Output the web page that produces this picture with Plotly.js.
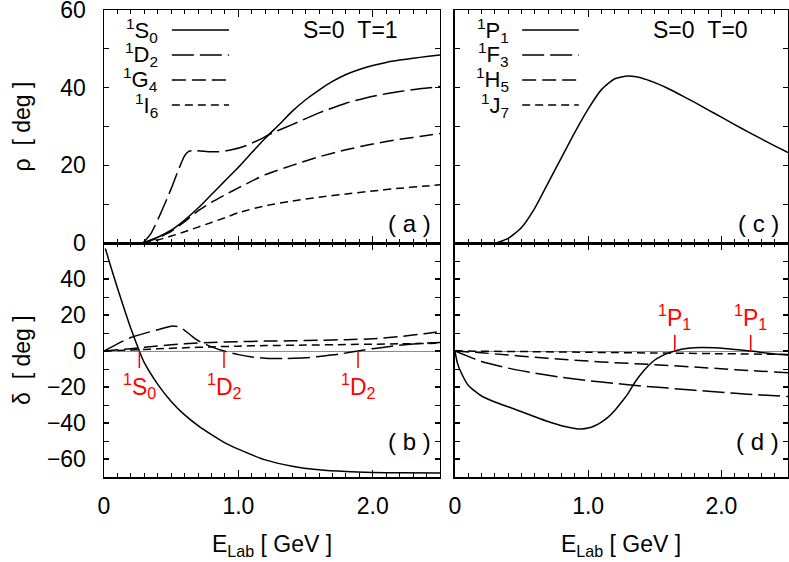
<!DOCTYPE html>
<html>
<head>
<meta charset="utf-8">
<script src="https://cdn.plot.ly/plotly-3.0.1.min.js"></script>
<style>
  html, body { margin: 0; padding: 0; background: #fff; }
  #plot { width: 789px; height: 562px; }
</style>
</head>
<body>
<div id="plot"></div>
<script>
// (a) rho, S=0 T=1
const eS0a = [0.29, 0.4, 0.5, 0.6, 0.7, 0.8, 0.9, 1.0, 1.1, 1.2, 1.3, 1.4, 1.5, 1.6, 1.7, 1.8, 1.9, 2.0, 2.1, 2.2, 2.3, 2.4, 2.5]
const rhoS0 = [0, 1.5, 3.3, 5.9, 9, 12.5, 16, 19.5, 23.3, 27, 30.4, 33.9, 36.9, 39.4, 41.6, 43.4, 44.7, 45.7, 46.5, 47.1, 47.6, 48.0, 48.4]
const eD2a = [0.29, 0.35, 0.42, 0.5, 0.55, 0.6, 0.63, 0.66, 0.75, 0.85, 0.95, 1.05, 1.15, 1.25, 1.4, 1.6, 1.8, 2.0, 2.2, 2.35, 2.5]
const rhoD2 = [0, 2.5, 7.5, 14, 18.5, 22.5, 23.6, 23.8, 23.6, 23.5, 24, 25, 26.5, 28.3, 30.5, 33.5, 36, 37.8, 39, 39.7, 40.3]
const eG4a = [0.29, 0.4, 0.5, 0.6, 0.7, 0.8, 0.9, 1.0, 1.2, 1.4, 1.6, 1.8, 2.0, 2.2, 2.4, 2.5]
const rhoG4 = [0, 1.3, 3, 5.5, 8.3, 10.5, 12.4, 14.2, 17.6, 20, 22.2, 24, 25.5, 26.7, 27.7, 28.2]
const eI6a = [0.29, 0.4, 0.5, 0.6, 0.7, 0.8, 0.9, 1.0, 1.2, 1.4, 1.6, 1.8, 2.0, 2.2, 2.4, 2.5]
const rhoI6 = [0, 0.8, 1.8, 2.9, 4.1, 5.3, 6.5, 7.8, 9.6, 10.8, 11.8, 12.6, 13.4, 14.1, 14.7, 15.0]

// (b) delta, S=0 T=1
const eS0b = [0.01, 0.05, 0.1, 0.15, 0.2, 0.263, 0.3, 0.4, 0.5, 0.6, 0.7, 0.8, 0.9, 1.0, 1.2, 1.4, 1.6, 1.8, 2.0, 2.2, 2.5]
const delS0 = [57, 47, 35, 23.5, 12.5, 0, -6.5, -18.5, -28, -35.5, -41.5, -46.5, -51, -54.5, -60.5, -64, -66, -67, -67.5, -67.7, -67.8]
const eD2b = [0, 0.1, 0.2, 0.3, 0.4, 0.5, 0.55, 0.6, 0.65, 0.7, 0.8, 0.893, 1.0, 1.1, 1.2, 1.35, 1.5, 1.6, 1.75, 1.89, 2.0, 2.2, 2.35, 2.5]
const delD2 = [0, 4, 7.5, 9.8, 11.8, 13.8, 13.5, 11.5, 8.5, 5.8, 2.3, 0, -2, -3.3, -4, -4.2, -3.8, -3, -1.7, 0, 1.3, 3.2, 4.2, 4.7]
const eG4b = [0, 0.2, 0.4, 0.6, 0.8, 1.0, 1.2, 1.4, 1.6, 1.8, 2.0, 2.2, 2.4, 2.5]
const delG4 = [0, 1.3, 2.8, 4, 4.8, 5.2, 5.5, 5.7, 6, 6.3, 6.8, 8, 9.8, 10.8]
const eI6b = [0, 0.2, 0.4, 0.6, 0.8, 1.0, 1.2, 1.5, 1.8, 2.0, 2.2, 2.5]
const delI6 = [0, 0.5, 1.2, 1.8, 2.3, 2.7, 3, 3.3, 3.6, 3.8, 4, 4.3]

// (c) rho, S=0 T=0 (only 1P1 leaves zero)
const eP1c = [0.31, 0.4, 0.5, 0.6, 0.7, 0.8, 0.9, 1.0, 1.1, 1.2, 1.3, 1.4, 1.5, 1.6, 1.7, 1.8, 1.9, 2.0, 2.1, 2.2, 2.3, 2.4, 2.5]
const rhoP1 = [0, 1.2, 4, 9, 15.5, 22, 28.5, 34.5, 39.5, 42.3, 43, 42.5, 41.3, 39.8, 38, 36.2, 34.3, 32.4, 30.5, 28.6, 26.8, 25, 23.3]
const eFlat = [0, 2.5]
const rhoFlat = [0, 0]

// (d) delta, S=0 T=0
const eP1d = [0, 0.02, 0.05, 0.1, 0.2, 0.3, 0.4, 0.5, 0.6, 0.7, 0.8, 0.9, 0.95, 1.0, 1.05, 1.1, 1.15, 1.2, 1.25, 1.3, 1.35, 1.4, 1.45, 1.5, 1.55, 1.6, 1.65, 1.75, 1.85, 1.95, 2.05, 2.15, 2.22, 2.35, 2.5]
const delP1 = [0, -7, -12.5, -19, -25, -28.3, -31, -33.7, -36.5, -39.2, -41.5, -43, -43.3, -42.8, -41.5, -39.5, -36.7, -33, -28.5, -23.5, -17.5, -12.5, -8.3, -5, -2.8, -1.2, 0, 1.5, 2, 1.8, 1.2, 0.5, 0, -1.2, -2.2]
const eF3d = [0, 0.1, 0.2, 0.4, 0.6, 0.8, 1.0, 1.2, 1.4, 1.6, 1.8, 2.0, 2.2, 2.5]
const delF3 = [0, -3, -5.8, -9.5, -12.3, -14.6, -16.5, -18, -19.4, -20.6, -21.8, -22.9, -24, -25.3]
const eH5d = [0, 0.2, 0.4, 0.6, 0.8, 1.0, 1.2, 1.4, 1.6, 1.8, 2.0, 2.2, 2.5]
const delH5 = [0, -1, -2.2, -3.5, -4.6, -5.6, -6.5, -7.2, -8, -8.9, -9.9, -10.8, -12.1]
const eJ7d = [0, 0.5, 1.0, 1.5, 2.0, 2.5]
const delJ7 = [0, -0.3, -0.7, -1.1, -1.5, -1.9]

// zero crossings marked in red
const markBE = [0.263, 0.893, 1.89]
const markBText = ['<sup>1</sup>S<sub>0</sub>', '<sup>1</sup>D<sub>2</sub>', '<sup>1</sup>D<sub>2</sub>']
const markDE = [1.65, 2.22]
const markDText = ['<sup>1</sup>P<sub>1</sub>', '<sup>1</sup>P<sub>1</sub>']

const legendT1 = ['<sup>1</sup>S<sub>0</sub>', '<sup>1</sup>D<sub>2</sub>', '<sup>1</sup>G<sub>4</sub>', '<sup>1</sup>I<sub>6</sub>']
const legendT0 = ['<sup>1</sup>P<sub>1</sub>', '<sup>1</sup>F<sub>3</sub>', '<sup>1</sup>H<sub>5</sub>', '<sup>1</sup>J<sub>7</sub>']

const xTickVals = [0, 1, 2]
const xTickText = ['0', '1.0', '2.0']
const rhoTicks = [0, 20, 40, 60]
const delTicks = [-60, -40, -20, 0, 20, 40]

const FONT = 'Liberation Sans, Arial, Helvetica, sans-serif'
const DASHES = ['solid', '22px,6px', '14px,6px', '8px,5px']

function curve(x, y, xa, ya, k) {
  return {
    x: x, y: y, xaxis: xa, yaxis: ya, mode: 'lines', type: 'scatter',
    line: {color: 'black', width: 1.5, dash: DASHES[k], shape: 'spline', smoothing: 0.6},
    hoverinfo: 'skip', showlegend: false
  }
}

const data = [
  curve(eS0a, rhoS0, 'x', 'y', 0),
  curve(eD2a, rhoD2, 'x', 'y', 1),
  curve(eG4a, rhoG4, 'x', 'y', 2),
  curve(eI6a, rhoI6, 'x', 'y', 3),
  curve(eS0b, delS0, 'x2', 'y2', 0),
  curve(eD2b, delD2, 'x2', 'y2', 1),
  curve(eG4b, delG4, 'x2', 'y2', 2),
  curve(eI6b, delI6, 'x2', 'y2', 3),
  curve(eFlat, rhoFlat, 'x3', 'y3', 1),
  curve(eFlat, rhoFlat, 'x3', 'y3', 2),
  curve(eFlat, rhoFlat, 'x3', 'y3', 3),
  curve(eP1c, rhoP1, 'x3', 'y3', 0),
  curve(eF3d, delF3, 'x4', 'y4', 1),
  curve(eH5d, delH5, 'x4', 'y4', 2),
  curve(eJ7d, delJ7, 'x4', 'y4', 3),
  curve(eP1d, delP1, 'x4', 'y4', 0)
]

function axis(extra) {
  return Object.assign({
    showline: true, linecolor: 'black', linewidth: 1.5, mirror: 'allticks',
    ticks: 'inside', ticklen: 7, tickwidth: 1.2, tickcolor: 'black',
    showgrid: false, zeroline: false, fixedrange: true, ticklabeloverflow: 'allow',
    tickfont: {family: FONT, size: 23, color: 'black'}
  }, extra)
}
const xMinor = {dtick: 0.1, ticks: 'inside', ticklen: 4, tickwidth: 1, tickcolor: 'black', showgrid: false}
const yMinor = {dtick: 10, ticks: 'inside', ticklen: 5, tickwidth: 1, tickcolor: 'black', showgrid: false}

const xLeft = [0, 0.4912]
const xRight = [0.513, 1]
const yTop = [0.501, 1]
const yBot = [0, 0.501]

function xAx(dom, anchor, labels) {
  return axis({domain: dom, anchor: anchor, range: [0, 2.5], tickvals: xTickVals, ticktext: xTickText,
    showticklabels: labels, ticklabelstandoff: 8, minor: xMinor})
}
function yAx(dom, anchor, top, labels) {
  return axis({domain: dom, anchor: anchor, range: top ? [0, 60] : [-70, 60],
    tickvals: top ? rhoTicks : delTicks, showticklabels: labels, ticklabelstandoff: 12,
    ticklen: 5, minor: yMinor,
    zeroline: !top, zerolinecolor: '#8c8c8c', zerolinewidth: 1})
}

const annotations = []
const shapes = []
const txt = (s, size, color) => ({family: FONT, size: size || 23, color: color || 'black'})

// legends drawn in the top panels
const legRows = [0.914, 0.807, 0.700, 0.592]
;[['x', 'y', legendT1], ['x3', 'y3', legendT0]].forEach(function (p) {
  p[2].forEach(function (label, i) {
    annotations.push({xref: p[0] + ' domain', yref: p[1] + ' domain', x: 0.167, y: legRows[i],
      xanchor: 'right', yanchor: 'middle', text: label, showarrow: false, font: txt(null, 22)})
    shapes.push({type: 'line', xref: p[0] + ' domain', yref: p[1] + ' domain',
      x0: 0.202, x1: 0.372, y0: legRows[i], y1: legRows[i],
      line: {color: 'black', width: 1.5, dash: DASHES[i]}})
  })
})

annotations.push({xref: 'x domain', yref: 'y domain', x: 0.735, y: 0.914, text: 'S=0\u00a0\u00a0T=1',
  showarrow: false, font: txt(), xanchor: 'center', yanchor: 'middle'})
annotations.push({xref: 'x3 domain', yref: 'y3 domain', x: 0.737, y: 0.914, text: 'S=0\u00a0\u00a0T=0',
  showarrow: false, font: txt(), xanchor: 'center', yanchor: 'middle'})

// panel letters
;[['x', 'y', '( a )', 0.082], ['x2', 'y2', '( b )', 0.151], ['x3', 'y3', '( c )', 0.082], ['x4', 'y4', '( d )', 0.151]].forEach(function (p) {
  annotations.push({xref: p[0] + ' domain', yref: p[1] + ' domain', x: 0.98, y: p[3], text: p[2],
    showarrow: false, font: txt(null, 24), xanchor: 'right', yanchor: 'middle'})
})

// red zero-crossing marks
markBE.forEach(function (e, i) {
  shapes.push({type: 'line', xref: 'x2', yref: 'y2', x0: e, x1: e, y0: 0, y1: -9.5, line: {color: 'red', width: 1.5}})
  annotations.push({xref: 'x2', yref: 'y2', x: e, y: -9.5, text: markBText[i], showarrow: false,
    xanchor: 'center', yanchor: 'top', font: txt(null, 23, 'red')})
})
markDE.forEach(function (e, i) {
  shapes.push({type: 'line', xref: 'x4', yref: 'y4', x0: e, x1: e, y0: 0, y1: 9, line: {color: 'red', width: 1.5}})
  annotations.push({xref: 'x4', yref: 'y4', x: e, y: 9, text: markDText[i], showarrow: false,
    xanchor: 'center', yanchor: 'bottom', font: txt(null, 23, 'red')})
})

// axis titles
annotations.push({xref: 'paper', yref: 'y domain', x: -0.12, y: 0.5, textangle: -90, text: 'ρ\u00a0\u00a0[ deg ]',
  showarrow: false, font: txt(), xanchor: 'center', yanchor: 'middle'})
annotations.push({xref: 'paper', yref: 'y2 domain', x: -0.12, y: 0.5, textangle: -90, text: 'δ\u00a0\u00a0[ deg ]',
  showarrow: false, font: txt(), xanchor: 'center', yanchor: 'middle'})
annotations.push({xref: 'x2 domain', yref: 'paper', x: 0.5, y: -0.146, text: 'E<sub>Lab</sub> [ GeV ]',
  showarrow: false, font: txt(), xanchor: 'center', yanchor: 'middle'})
annotations.push({xref: 'x4 domain', yref: 'paper', x: 0.5, y: -0.146, text: 'E<sub>Lab</sub> [ GeV ]',
  showarrow: false, font: txt(), xanchor: 'center', yanchor: 'middle'})

const layout = {
  width: 789, height: 562,
  margin: {l: 104, r: 1, t: 10, b: 85},
  paper_bgcolor: 'white', plot_bgcolor: 'white',
  font: {family: FONT, color: 'black'},
  showlegend: false,
  xaxis: xAx(xLeft, 'y', false),
  xaxis2: xAx(xLeft, 'y2', true),
  xaxis3: xAx(xRight, 'y3', false),
  xaxis4: xAx(xRight, 'y4', true),
  yaxis: yAx(yTop, 'x', true, true),
  yaxis2: yAx(yBot, 'x2', false, true),
  yaxis3: yAx(yTop, 'x3', true, false),
  yaxis4: yAx(yBot, 'x4', false, false),
  annotations: annotations,
  shapes: shapes
}

Plotly.newPlot('plot', data, layout, {displayModeBar: false, staticPlot: true})
</script>
</body>
</html>
